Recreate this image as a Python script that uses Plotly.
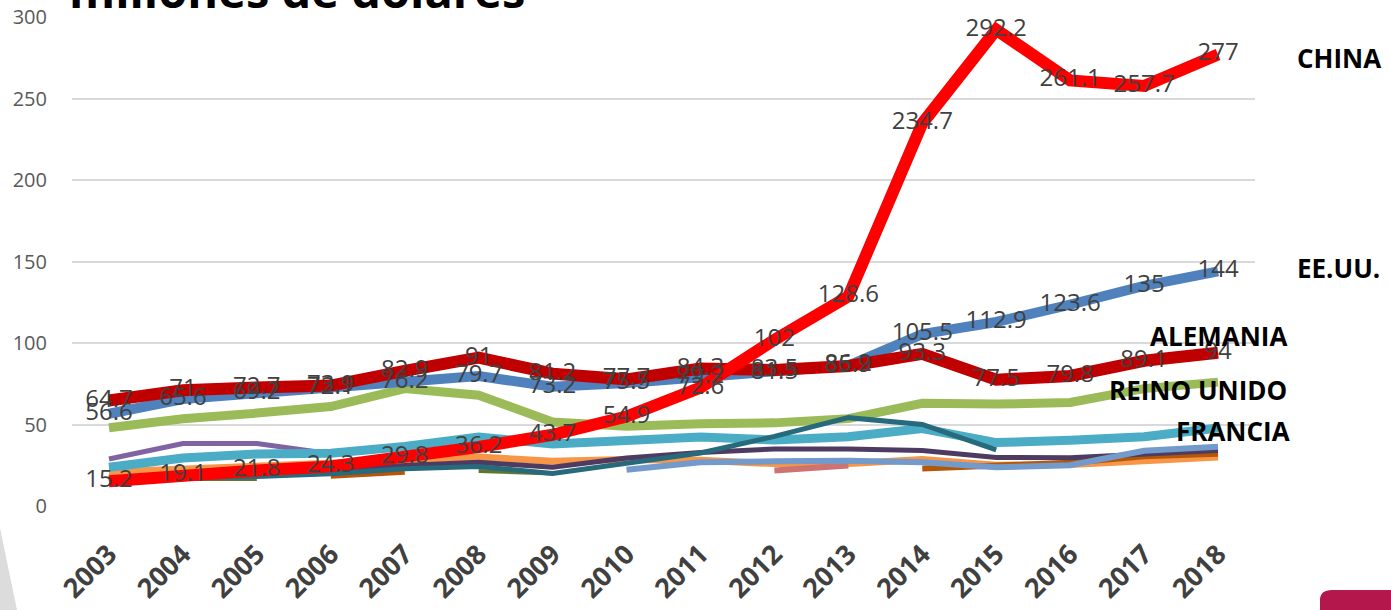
import plotly.graph_objects as go

years = [str(y) for y in range(2003, 2019)]

china = [15.2, 19.1, 21.8, 24.3, 29.8, 36.2, 43.7, 54.9, 72.6, 102, 128.6, 234.7, 292.2, 261.1, 257.7, 277]
eeuu = [56.6, 65.6, 69.2, 72.1, 76.2, 79.7, 73.2, 75.5, 79.2, 81.5, 86.2, 105.5, 112.9, 123.6, 135, 144]
alemania = [64.7, 71, 72.7, 73.9, 82.9, 91, 81.2, 77.7, 84.3, 83.5, 85.9, 93.3, 77.5, 79.8, 89.1, 94]
reino_unido = [48, 53.5, 57, 61, 72, 68, 51.5, 49, 50.4, 51, 53.6, 63, 62.5, 63.5, 72, 76]
francia = [23.8, 29.4, 31.9, 32.3, 36.5, 42.3, 38, 39.5, 42.3, 40.5, 42.5, 47.5, 38.9, 40.3, 42.5, 47.8]
otro_naranja = [20.8, 22.5, 24, 25.5, 28, 30, 27.5, 28.5, 28, 26, 26, 28.5, 25, 25.5, 28, 30]
otro_naranja_osc = [None, None, None, 18.5, 21, None, None, None, None, None, None, 23, 25, 26.5, 30.5, 32]
otro_verde_osc = [None, 16.5, 16.5, None, None, 21.5, 20, None, None, None, None, None, None, None, None, None]
otro_rosa = [None, None, None, None, None, None, None, None, None, 21.8, 24.8, None, None, None, None, None]
otro_morado = [28.8, 38.3, 38.3, 32, None, None, None, None, None, None, None, None, None, None, None, None]
otro_morado_osc = [None, None, None, 21.5, 24.8, 26.8, 23.8, 29.5, 32.8, 35, 35, 34, 29.8, 29.6, 31.5, 34]
otro_azul_claro = [None, None, None, None, None, None, None, 22.2, 26.8, 27.4, 27.8, 26.8, 23.8, 25, 33.9, 36.3]
otro_turquesa_osc = [14.5, 17.3, 18.1, 19.8, 22.8, 24.2, 20, 26, 32.5, 42.7, 54.2, 50, 34.5, None, None, None]

y_ticks = [0, 50, 100, 150, 200, 250, 300]

# (name, values, color, width) in drawing order
series = [
    ("Otro 1", otro_naranja, "#F79646", 7),
    ("Otro 2", otro_naranja_osc, "#B65708", 6),
    ("Otro 3", otro_verde_osc, "#5F7530", 4),
    ("Otro 4", otro_rosa, "#CD7371", 6),
    ("Otro 5", otro_morado, "#8064A2", 5),
    ("FRANCIA", francia, "#4BACC6", 9),
    ("REINO UNIDO", reino_unido, "#9BBB59", 9),
    ("Otro 6", otro_morado_osc, "#4D3B62", 5),
    ("Otro 7", otro_azul_claro, "#729ACA", 6),
    ("Otro 8", otro_turquesa_osc, "#276A7C", 5),
    ("EE.UU.", eeuu, "#4F81BD", 10),
    ("ALEMANIA", alemania, "#C00000", 12),
    ("CHINA", china, "#FF0000", 12),
]

fig = go.Figure()
for name, vals, color, w in series:
    fig.add_trace(go.Scatter(
        x=years, y=vals, name=name, mode="lines",
        line=dict(color=color, width=w),
        connectgaps=False, hoverinfo="skip",
    ))

def fmt(v):
    return f"{v:g}"

for name, vals in [("EE.UU.", eeuu), ("ALEMANIA", alemania), ("CHINA", china)]:
    fig.add_trace(go.Scatter(
        x=years, y=vals, mode="text", text=[fmt(v) for v in vals],
        textposition="middle center",
        textfont=dict(family="Open Sans", size=24, color="#404040"),
        hoverinfo="skip", showlegend=False,
    ))

L, R, T, B = 72, 1255, 17, 506
W, H = 1391, 610
def px(xp):
    return (xp - L) / (R - L)
def py(yp):
    return (B - yp) / (B - T)

label_font = dict(family="Open Sans", size=26, color="#000000", weight="bold")
annotations = [
    dict(text="CHINA", x=px(1295), y=py(58), xanchor="left"),
    dict(text="EE.UU.", x=px(1295), y=py(268), xanchor="left"),
    dict(text="ALEMANIA", x=px(1289), y=py(336), xanchor="right"),
    dict(text="REINO UNIDO", x=px(1289), y=py(390), xanchor="right"),
    dict(text="FRANCIA", x=px(1292), y=py(431), xanchor="right"),
]
for a in annotations:
    a.update(xref="paper", yref="paper", yanchor="middle", showarrow=False, font=label_font)

annotations.append(dict(
    text="millones de dólares", xref="paper", yref="paper",
    x=px(67), y=py(24), xanchor="left", yanchor="bottom", showarrow=False,
    font=dict(family="Open Sans", size=47, color="#000000", weight="bold"),
))

shapes = [
    dict(type="path", xref="paper", yref="paper",
         path=f"M {px(0)},{py(528)} L {px(17)},{py(610)} L {px(0)},{py(610)} Z",
         fillcolor="#DCDCDC", line=dict(width=0), layer="below"),
    dict(type="path", xref="paper", yref="paper",
         path=(f"M {px(1320)},{py(610)} L {px(1320)},{py(600)} "
               f"Q {px(1320)},{py(590)} {px(1332)},{py(590)} "
               f"L {px(1391)},{py(590)} L {px(1391)},{py(610)} Z"),
         fillcolor="#B3174C", line=dict(width=0)),
]

fig.update_layout(
    width=W, height=H,
    margin=dict(l=L, r=W - R, t=T, b=H - B, pad=0),
    paper_bgcolor="white", plot_bgcolor="white",
    showlegend=False,
    annotations=annotations,
    shapes=shapes,
    xaxis=dict(
        type="category", categoryorder="array", categoryarray=years,
        range=[-0.5, 15.5], showgrid=False, zeroline=False, showline=False,
        ticks="", tickangle=-45, ticklabelstandoff=26, automargin=False,
        tickfont=dict(family="Open Sans", size=27, color="#404040", weight="bold"),
    ),
    yaxis=dict(
        range=[0, 300], tickvals=y_ticks, showgrid=True, gridcolor="#D9D9D9",
        gridwidth=2, zeroline=False, showline=False, ticks="",
        ticklabelstandoff=24, automargin=False,
        tickfont=dict(family="Open Sans", size=20, color="#595959"),
    ),
)

fig.write_html(
    "out.html",
    config={"displayModeBar": False},
    post_script="document.body.style.margin='0';document.body.style.overflow='hidden';",
)
